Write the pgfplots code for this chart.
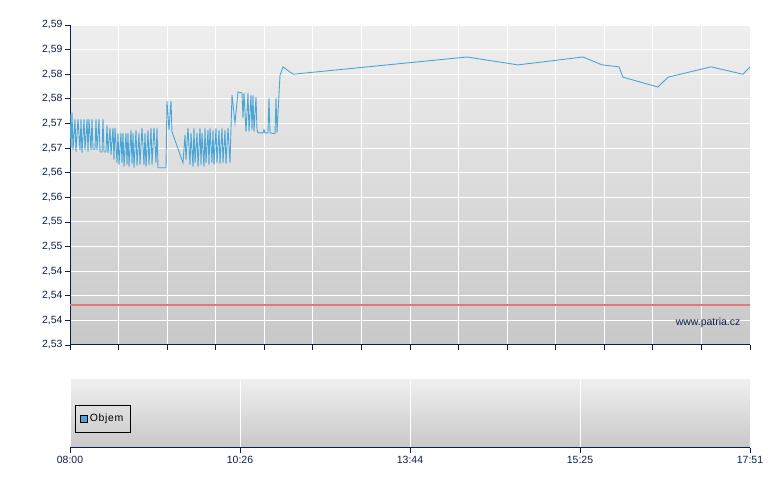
\documentclass[border=0pt]{standalone}
\usepackage{fontspec}
\setmainfont{Liberation Sans}
\usepackage{pgfplots}
\pgfplotsset{compat=1.18}
\definecolor{navy}{HTML}{0A1F4F}
\definecolor{bgtop}{HTML}{EFEFEF}
\definecolor{bgbot}{HTML}{C8C8C8}
\definecolor{lineblue}{HTML}{4AA6D6}
\definecolor{myred}{HTML}{E07A7A}
\begin{document}
\begin{tikzpicture}
\path[use as bounding box] (0,0) rectangle (780bp,490bp);
\begin{axis}[
  at={(70bp,145bp)}, anchor=south west, scale only axis,
  width=680bp, height=320bp,
  xmin=0, xmax=680, ymin=2.53, ymax=2.595,
  axis background/.style={top color=bgtop, bottom color=bgbot},
  axis x line*=bottom, axis y line*=left,
  axis line style={navy, line width=1bp, -},
  xtick={0,48.571,97.143,145.714,194.286,242.857,291.429,340,388.571,437.143,485.714,534.286,582.857,631.429,680},
  xticklabels={},
  ytick={2.53,2.535,2.54,2.545,2.55,2.555,2.56,2.565,2.57,2.575,2.58,2.585,2.59,2.595},
  yticklabels={{2{,}53},{2{,}54},{2{,}54},{2{,}54},{2{,}55},{2{,}55},{2{,}56},{2{,}56},{2{,}57},{2{,}57},{2{,}58},{2{,}58},{2{,}59},{2{,}59}},
  grid=major, major grid style={white, line width=1bp},
  tick style={navy, line width=0.8bp}, major tick length=5bp, tick align=outside,
  ticklabel style={font=\fontsize{10.5}{12}\selectfont, text=navy},
  yticklabel style={xshift=1bp},
  clip=true,
]
\addplot[myred, line width=1.3bp, mark=none] table {
x y
0 2.5381
680 2.5381
};
\addplot[lineblue, line width=0.9bp] coordinates {
(0,2.5771) (1,2.5700) (2,2.5773) (3,2.5696) (5,2.5759) (6,2.5692) (8,2.5759) (10,2.5696)
(11,2.5759) (12,2.5690) (14,2.5759) (15,2.5696) (17,2.5759) (18,2.5692) (19,2.5759) (21,2.5696)
(22,2.5759) (23,2.5698) (25,2.5698) (26,2.5759) (27,2.5696) (29,2.5759) (30,2.5692) (32,2.5692)
(33,2.5759) (34,2.5692) (36,2.5692) (37,2.5747) (38,2.5690) (40,2.5741) (41,2.5686) (43,2.5741)
(44,2.5676) (45,2.5741) (47,2.5670) (48,2.5731) (49,2.5666) (51,2.5731) (52,2.5670) (53,2.5731)
(54,2.5662) (56,2.5731) (57,2.5666) (58,2.5731) (59,2.5662) (61,2.5737) (62,2.5668) (63,2.5731)
(64,2.5660) (66,2.5737) (67,2.5664) (69,2.5731) (70,2.5666) (72,2.5741) (74,2.5666) (75,2.5731)
(76,2.5662) (78,2.5737) (79,2.5666) (81,2.5741) (82,2.5666) (84,2.5741) (86,2.5670) (87,2.5741)
(88,2.5660) (96,2.5660) (97,2.5796) (99,2.5737) (101,2.5796) (102,2.5733) (113,2.5670)
(115,2.5727) (116,2.5676) (118,2.5741) (120,2.5666) (121,2.5731) (123,2.5662) (124,2.5741) (125,2.5670)
(127,2.5731) (128,2.5662) (130,2.5741) (131,2.5666) (132,2.5731) (134,2.5662) (135,2.5741) (136,2.5670)
(138,2.5737) (139,2.5666) (140,2.5741) (142,2.5670) (143,2.5737) (144,2.5666) (146,2.5741) (147,2.5670)
(149,2.5737) (150,2.5668) (152,2.5741) (153,2.5670) (155,2.5737) (156,2.5668) (158,2.5741) (160,2.5670)
(162,2.5808) (165,2.5751) (168,2.5814) (172,2.5812) (173,2.5761) (174,2.5812) (176,2.5733) (178,2.5812)
(179,2.5733) (181,2.5808) (182,2.5737) (183,2.5808) (184,2.5733) (186,2.5804) (187,2.5737) (188,2.5731)
(193,2.5731) (194,2.5737) (195,2.5731) (198,2.5731) (199,2.5802) (200,2.5731) (205,2.5729) (206,2.5802)
(207,2.5731) (210,2.5848) (213,2.5865) (223,2.5850) (397,2.5885) (448,2.5869) (513,2.5885) (532,2.5869)
(549,2.5865) (553,2.5844) (588,2.5824) (598,2.5844) (641,2.5865) (673,2.5850) (680,2.5865)
};
\node[anchor=east, text=navy, font=\fontsize{10.5}{12}\selectfont] at (rel axis cs:0.991,0.069) {www.patria.cz};
\end{axis}
\begin{axis}[
  at={(70bp,42bp)}, anchor=south west, scale only axis,
  width=680bp, height=68bp,
  xmin=0, xmax=680, ymin=0, ymax=1,
  axis background/.style={top color=bgtop, bottom color=bgbot},
  axis x line*=bottom, axis y line=none,
  axis line style={navy, line width=1bp, -},
  xtick={0,170,340,510,680},
  xticklabels={08:00,10:26,13:44,15:25,17:51},
  ytick=\empty,
  xmajorgrids, major grid style={white, line width=1bp},
  tick style={navy, line width=0.8bp}, major tick length=5bp, tick align=outside,
  ticklabel style={font=\fontsize{10.5}{12}\selectfont, text=navy},
  legend style={at={(axis cs:5,0.63)}, anchor=north west, draw=black, fill=none,
    font=\fontsize{10.5}{12}\selectfont\addfontfeature{LetterSpace=6}, inner xsep=5bp, inner ysep=7bp},
  legend cell align=left,
]
\addlegendimage{legend image code/.code={\draw[fill=lineblue, draw=black, line width=0.8bp] (2bp,-3.5bp) rectangle (9bp,3.5bp);}}
\addlegendentry{Objem}
\end{axis}
\end{tikzpicture}
\end{document}
